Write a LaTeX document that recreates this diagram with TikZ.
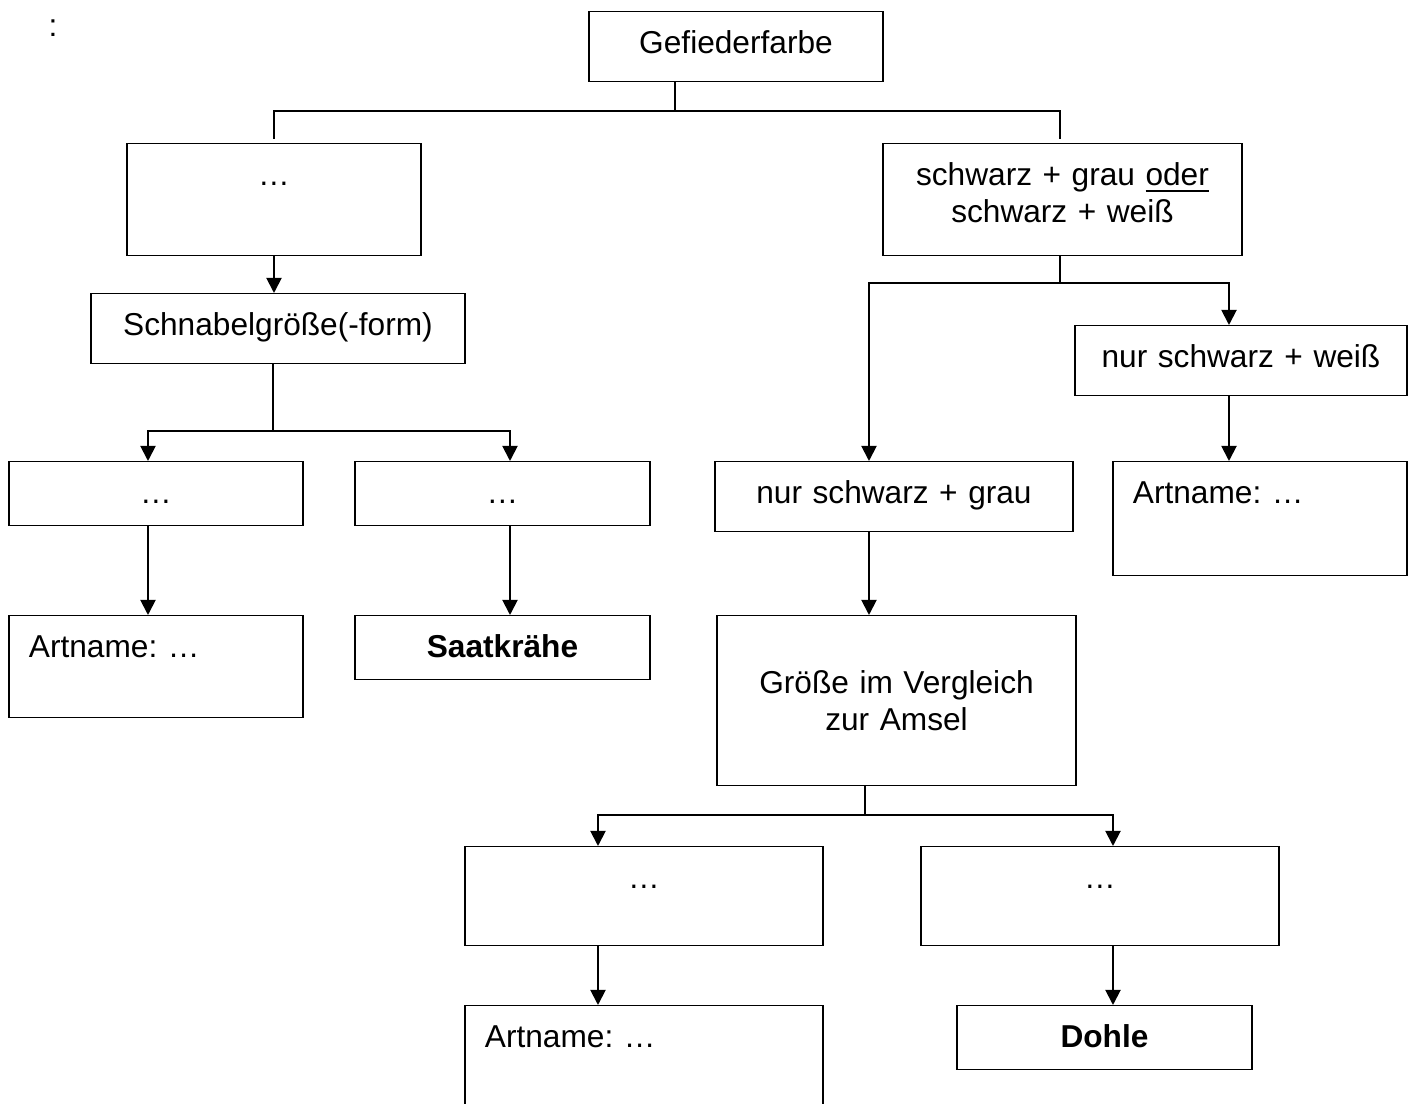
\documentclass[tikz,border=0pt]{standalone}
\usepackage{fontspec}
\setmainfont{Liberation Sans}
\usetikzlibrary{arrows.meta}
\frenchspacing

\begin{document}
\begin{tikzpicture}[x=0.01cm,y=-0.01cm,>={Triangle[length=0.15cm,width=0.15cm]},font=\fontsize{9}{10.6}\selectfont]
    \tikzstyle{box}=[draw,line width=0.35pt,anchor=north,inner sep=0pt,align=center,text height=0.42cm]
    \tikzstyle{namebox}=[box,align=left,inner xsep=0.2cm]
    \tikzstyle{stub}=[line width=0.35pt]
    \tikzstyle{branch}=[line width=0.55pt]
    \tikzstyle{arr}=[branch,->]

    \useasboundingbox (0,0) rectangle (1414,1104);
    \clip (0,0) rectangle (1414,1104);

    \node [inner sep=0pt,anchor=base] (colon) at (53,37) {:};

    \node [box,text width=2.94cm,text depth=0.28cm] (farbe) at (736,11) {Gefiederfarbe}; %root
    \node [box,text width=2.94cm,text depth=0.70cm] (tl) at (274,143) {…};
    \node [box,text width=3.59cm,text depth=0.70cm] (tr) at (1062.5,143) {schwarz + grau \underline{oder}\\schwarz + weiß};

    \node [box,text width=3.74cm,text depth=0.28cm] (schnabel) at (278,293) {Schnabelgröße(-form)};
    \node [box,text width=2.94cm,text depth=0.22cm] (midL) at (156,461) {…};
    \node [box,text width=2.95cm,text depth=0.22cm] (midR) at (502.5,461) {…};
    \node [namebox,text width=2.54cm,text depth=0.60cm] (artL) at (156,615) {Artname: …};
    \node [box,text width=2.95cm,text depth=0.22cm] (saat) at (502.5,615) {\textbf{Saatkrähe}};

    \node [box,text width=3.32cm,text depth=0.28cm] (nsw) at (1241,325) {nur schwarz + weiß};
    \node [namebox,text width=2.54cm,text depth=0.72cm] (artR) at (1260,461) {Artname: …};
    \node [box,text width=3.58cm,text depth=0.28cm] (nsg) at (894,461) {nur schwarz + grau};
    \node [box,text width=3.59cm,text height=0.78cm,text depth=0.92cm] (groesse) at (896.5,615) {Größe im Vergleich\\zur Amsel};
    \node [box,text width=3.58cm,text depth=0.57cm] (botL) at (644,846) {…};
    \node [box,text width=3.58cm,text depth=0.57cm] (botR) at (1100,846) {…};
    \node [namebox,text width=3.18cm,text depth=0.80cm] (artB) at (644,1005) {Artname: …}; %runs off the page
    \node [box,text width=2.95cm,text depth=0.22cm] (dohle) at (1104.5,1005) {\textbf{Dohle}};

    % junctions and arrow columns
    \coordinate (j1) at (675,111);
    \coordinate (j2) at (273,431);
    \coordinate (j3) at (1060,283);
    \coordinate (j4) at (865,815);
    \coordinate (colA) at (148,0);
    \coordinate (colB) at (510,0);
    \coordinate (colC) at (869,0);
    \coordinate (colD) at (1229,0);
    \coordinate (colE) at (598,0);
    \coordinate (colF) at (1113,0);

    \draw [stub] (farbe.south -| j1) -- (j1);
    \draw [branch,shorten >=0.04cm] (j1) -| (tl.north);
    \draw [branch,shorten >=0.04cm] (j1) -| (tr.north -| j3);

    % left side
    \draw [arr] (tl.south) -- (tl.south |- schnabel.north);
    \draw [stub] (schnabel.south -| j2) -- (j2);
    \draw [arr] (j2) -| (midL.north -| colA);
    \draw [arr] (j2) -| (midR.north -| colB);
    \draw [arr] (midL.south -| colA) -- (artL.north -| colA);
    \draw [arr] (midR.south -| colB) -- (saat.north -| colB);

    % right side
    \draw [stub] (tr.south -| j3) -- (j3);
    \draw [arr] (j3) -| (nsg.north -| colC);
    \draw [arr] (j3) -| (nsw.north -| colD);
    \draw [arr] (nsw.south -| colD) -- (artR.north -| colD);
    \draw [arr] (nsg.south -| colC) -- (groesse.north -| colC);
    \draw [stub] (groesse.south -| j4) -- (j4);
    \draw [arr] (j4) -| (botL.north -| colE);
    \draw [arr] (j4) -| (botR.north -| colF);
    \draw [arr] (botL.south -| colE) -- (artB.north -| colE);
    \draw [arr] (botR.south -| colF) -- (dohle.north -| colF);
\end{tikzpicture}
\end{document}
